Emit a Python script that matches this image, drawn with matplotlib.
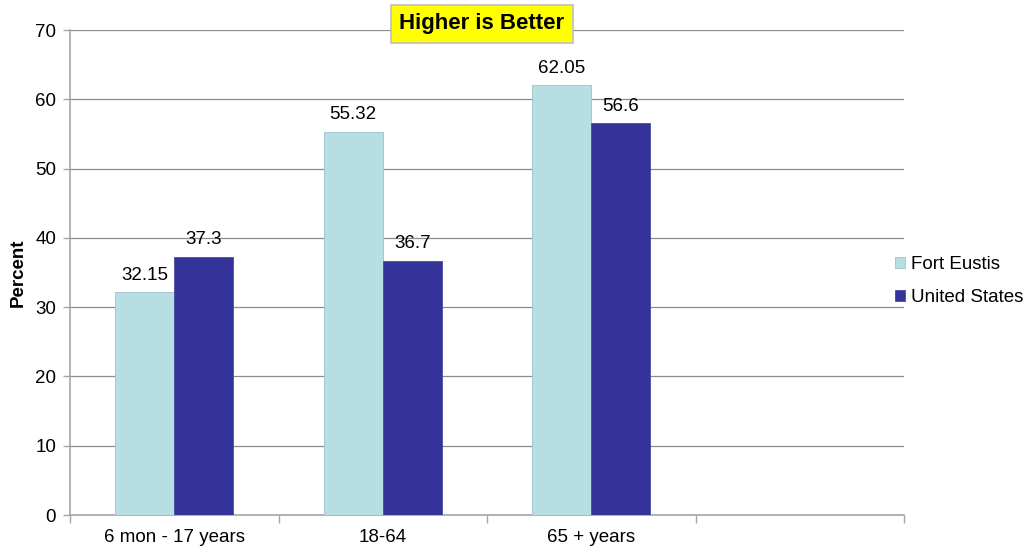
import matplotlib
matplotlib.use("Agg")
import matplotlib.pyplot as plt
import numpy as np

plt.rcParams['font.family'] = ['Liberation Sans', 'DejaVu Sans']

categories = ["6 mon - 17 years", "18-64", "65 + years", ""]
fort_eustis = [32.15, 55.32, 62.05]
united_states = [37.3, 36.7, 56.6]
series_names = ["Fort Eustis", "United States"]
yticks = [0, 10, 20, 30, 40, 50, 60, 70]

light = "#B7DEE2"
dark = "#333399"
grey = "#A6A6A6"
fs = 13.5

fig = plt.figure(figsize=(10.24, 5.5), dpi=100)
ax = fig.add_axes([70 / 1024, 35 / 550, (904 - 70) / 1024, (515 - 30) / 550])

n = len(fort_eustis)
x = np.arange(n)
w = 0.283
b1 = ax.bar(x - w / 2, fort_eustis, w, color=light, edgecolor="#9FC4C8", linewidth=0.6,
            label=series_names[0], zorder=3)
b2 = ax.bar(x + w / 2, united_states, w, color=dark, edgecolor="#4A4AA8", linewidth=0.6,
            label=series_names[1], zorder=3)

for bars, vals in ((b1, fort_eustis), (b2, united_states)):
    for r, v in zip(bars, vals):
        ax.annotate(f"{v:g}", (r.get_x() + r.get_width() / 2, v), xytext=(0, 6),
                    textcoords="offset points", ha="center", va="bottom", fontsize=fs)

ax.set_xlim(-0.5, len(categories) - 0.5)
ax.set_ylim(0, 70)
ax.set_yticks(yticks)
ax.yaxis.grid(True, color="#8C8C8C", linewidth=0.9, zorder=0)
ax.set_axisbelow(True)

ax.set_xticks(np.arange(len(categories)))
ax.set_xticklabels(categories, fontsize=fs)
ax.set_xticks(np.arange(len(categories) + 1) - 0.5, minor=True)
ax.tick_params(axis="x", which="major", length=0, pad=10)
ax.tick_params(axis="x", which="minor", length=6, color=grey, width=1)
ax.tick_params(axis="y", length=5, color=grey, width=1, labelsize=fs, pad=5)

for s in ("top", "right"):
    ax.spines[s].set_visible(False)
for s in ("left", "bottom"):
    ax.spines[s].set_color(grey)
    ax.spines[s].set_linewidth(1.2)

ax.set_ylabel("Percent", fontsize=fs, fontweight="bold", labelpad=6)

fig.legend(handles=[b1, b2], labels=series_names, loc="center left",
           bbox_to_anchor=(895 / 1024, 1 - 281 / 550), frameon=False, fontsize=fs,
           borderpad=0, borderaxespad=0,
           handlelength=0.55, handleheight=0.55, handletextpad=0.3, labelspacing=0.85)

fig.text(482 / 1024, 1 - 24 / 550, "Higher is Better", fontsize=16, fontweight="bold",
         ha="center", va="center",
         bbox=dict(boxstyle="square,pad=0.4", facecolor="#FFFF00", edgecolor="#BFBFBF", linewidth=1.2))

fig.savefig("out.png", dpi=100)
